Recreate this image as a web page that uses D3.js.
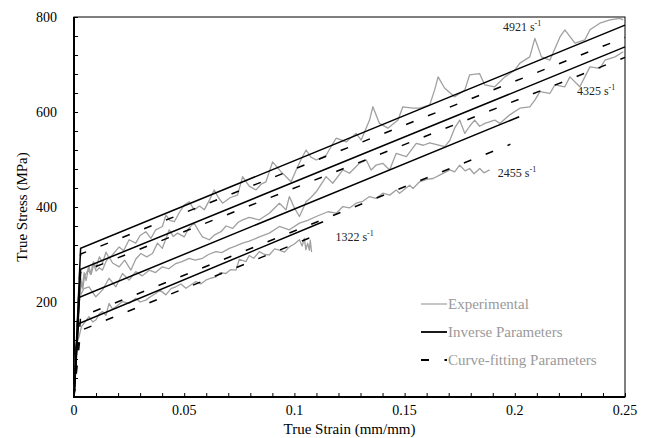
<!DOCTYPE html>
<html>
<head>
<meta charset="utf-8">
<script src="https://cdn.jsdelivr.net/npm/d3@7"></script>
<style>
  body { margin: 0; background: #fff; }
  text { font-family: "Liberation Serif", "DejaVu Serif", "Times New Roman", serif; }
</style>
</head>
<body>
<div id="chart"></div>
<script>
// experimental curves, [strain, stress in MPa]
var exp4921 = [[0,0],[0.0008,70],[0.0015,150],[0.0022,215],[0.003,250],[0.0038,232],[0.0046,262],
  [0.0055,245],[0.0065,270],[0.0075,258],[0.0088,285],[0.010,272],[0.0115,295],[0.013,283],
  [0.0145,305],[0.016,292],[0.0174,299],[0.0205,316],[0.0225,308],[0.025,331],[0.028,324],
  [0.030,340],[0.0326,348],[0.0349,334],[0.0371,352],[0.0401,359],[0.0417,383],[0.0435,372],
  [0.0455,369],[0.048,390],[0.050,404],[0.0523,411],[0.0545,394],[0.057,402],[0.0591,394],
  [0.0615,415],[0.0636,436],[0.0655,420],[0.0674,408],[0.071,420],[0.0742,425],[0.0765,464],
  [0.0795,444],[0.0826,436],[0.0849,448],[0.0871,453],[0.0901,495],[0.094,474],[0.0985,453],
  [0.1008,478],[0.103,500],[0.1053,520],[0.1075,505],[0.1099,499],[0.1144,509],[0.117,530],
  [0.119,545],[0.1235,537],[0.128,555],[0.1303,541],[0.1341,583],[0.1356,611],[0.1386,576],
  [0.1424,566],[0.147,583],[0.1492,611],[0.1538,608],[0.1568,608],[0.1614,615],[0.1636,646],
  [0.1652,674],[0.1682,650],[0.1727,632],[0.1773,646],[0.1795,678],[0.184,681],[0.1864,657],
  [0.1909,653],[0.1955,674],[0.200,688],[0.2023,703],[0.2068,716],[0.2091,755],[0.2121,716],
  [0.2159,709],[0.2205,758],[0.2227,773],[0.2273,745],[0.2318,752],[0.2341,773],[0.2386,787],
  [0.2432,794],[0.2477,797],[0.2492,794]];

var exp4325 = [[0,0],[0.0007,55],[0.0014,120],[0.002,175],[0.0027,215],[0.0034,240],[0.004,228],
  [0.0048,255],[0.0058,262],[0.0068,274],[0.0078,258],[0.009,280],[0.010,265],[0.0115,272],
  [0.0129,267],[0.0145,285],[0.0159,295],[0.0175,282],[0.0205,274],[0.023,288],[0.0258,267],
  [0.028,290],[0.0303,302],[0.033,295],[0.0356,302],[0.0379,324],[0.0401,313],[0.0432,352],
  [0.045,338],[0.047,345],[0.050,337],[0.052,355],[0.0545,366],[0.0565,350],[0.0583,337],
  [0.0614,331],[0.064,342],[0.0667,348],[0.069,360],[0.072,355],[0.0745,368],[0.0765,373],
  [0.0795,378],[0.0841,373],[0.0886,387],[0.0932,408],[0.0962,394],[0.0977,422],[0.100,398],
  [0.1023,380],[0.1053,411],[0.1075,420],[0.1099,432],[0.1144,464],[0.1174,450],[0.122,478],
  [0.125,471],[0.1295,492],[0.1326,499],[0.1348,478],[0.137,488],[0.1401,492],[0.1432,478],
  [0.1462,513],[0.1508,506],[0.1553,534],[0.1585,530],[0.1614,535],[0.1682,527],[0.1705,540],
  [0.1727,566],[0.175,583],[0.1773,555],[0.1795,570],[0.1818,583],[0.184,570],[0.1864,576],
  [0.1909,583],[0.1932,576],[0.1977,594],[0.2023,608],[0.2068,611],[0.2091,625],[0.2114,643],
  [0.2159,639],[0.2182,657],[0.2227,653],[0.225,674],[0.2295,653],[0.2341,695],[0.2386,692],
  [0.2409,709],[0.2455,716],[0.2492,727]];

var exp2455 = [[0,0],[0.0006,50],[0.0012,110],[0.0018,170],[0.0023,239],[0.003,215],[0.0045,228],
  [0.0068,232],[0.0085,220],[0.0099,211],[0.0129,225],[0.0159,250],[0.019,232],[0.022,260],
  [0.025,246],[0.028,264],[0.031,255],[0.0341,267],[0.037,262],[0.0401,274],[0.043,270],
  [0.0462,281],[0.049,285],[0.0523,292],[0.055,288],[0.0583,292],[0.061,300],[0.0644,306],
  [0.067,304],[0.0705,313],[0.0735,318],[0.0765,324],[0.0795,328],[0.0841,337],[0.0886,345],
  [0.0932,359],[0.0977,352],[0.1023,366],[0.106,372],[0.1099,380],[0.1152,390],[0.119,387],
  [0.122,401],[0.125,398],[0.128,408],[0.131,412],[0.1341,422],[0.137,418],[0.1401,429],
  [0.1432,425],[0.1462,436],[0.1477,429],[0.1523,446],[0.1538,439],[0.1568,453],[0.16,458],
  [0.1629,460],[0.1659,467],[0.1705,478],[0.1727,474],[0.175,488],[0.1775,476],[0.1795,481],
  [0.1815,470],[0.1841,481],[0.186,472],[0.1886,478]];

var exp1322 = [[0,0],[0.0004,40],[0.0008,106],[0.0015,118],[0.0023,127],[0.0034,148],[0.0045,155],
  [0.0068,169],[0.0085,158],[0.0099,162],[0.0115,175],[0.0129,180],[0.0145,172],[0.0159,197],
  [0.0175,185],[0.019,190],[0.022,201],[0.025,197],[0.028,208],[0.030,200],[0.0326,204],
  [0.035,212],[0.0371,218],[0.039,225],[0.0417,215],[0.044,228],[0.0462,232],[0.0485,238],
  [0.0508,229],[0.0553,243],[0.0575,238],[0.0598,246],[0.062,250],[0.0644,253],[0.0665,262],
  [0.0689,260],[0.071,268],[0.0735,267],[0.075,290],[0.078,285],[0.0795,298],[0.0815,292],
  [0.0841,306],[0.0865,300],[0.0886,299],[0.091,312],[0.0932,309],[0.0955,305],[0.0977,316],
  [0.100,322],[0.1023,331],[0.1035,318],[0.1045,334],[0.1052,310],[0.106,324],[0.1068,309],
  [0.1072,330],[0.1078,305]];

// bilinear model curves: origin, yield knee, end point
var inv4921 = [[0,0],[0.003,313],[0.25,783]];
var inv4325 = [[0,0],[0.003,269],[0.25,737]];
var inv2455 = [[0,0],[0.0025,210],[0.202,590]];
var inv1322 = [[0,0],[0.002,154],[0.113,369]];

var fit4921 = [[0,0],[0.003,301],[0.25,757]];
var fit4325 = [[0,0],[0.003,262],[0.25,715]];
var fit2455 = [[0,0],[0.003,169],[0.198,532]];
var fit1322 = [[0,0],[0.003,140],[0.108,337]];

var rateLabels = [
  {rate: "4921", x: 0.1946, y: 770},
  {rate: "4325", x: 0.2282, y: 635},
  {rate: "2455", x: 0.1923, y: 463},
  {rate: "1322", x: 0.1186, y: 328}
];

var xTicks = [0, 0.05, 0.1, 0.15, 0.2, 0.25];
var yTicks = [200, 400, 600, 800];
var legendItems = ["Experimental", "Inverse Parameters", "Curve-fitting Parameters"];

var EXP_COLOUR = "#a0a0a0";
var LABEL_GREY = "#9a9a9a";
var FONT = "'Liberation Serif', 'DejaVu Serif', serif";

var margin = {top: 17, right: 21, bottom: 41, left: 74};
var width = 646 - margin.left - margin.right;
var height = 438 - margin.top - margin.bottom;

var svg = d3.select("#chart")
  .append("svg")
    .attr("width", 646)
    .attr("height", 438)
    .attr("font-family", FONT)
  .append("g")
    .attr("transform", "translate(" + margin.left + "," + margin.top + ")");

var x = d3.scaleLinear().domain([0, 0.25]).range([0, width]);
var y = d3.scaleLinear().domain([0, 800]).range([height, 0]);

// minor ticks, pointing inwards
svg.append("g")
  .call(d3.axisLeft(y).tickValues(d3.range(0, 801, 40)).tickSize(-4).tickFormat(""))
  .call(function(g) { g.select(".domain").remove(); })
  .selectAll("line").attr("stroke", "#000");
svg.append("g")
  .attr("transform", "translate(0," + height + ")")
  .call(d3.axisBottom(x).tickValues(d3.range(0, 26).map(function(i) { return i / 100; })).tickSize(-4).tickFormat(""))
  .call(function(g) { g.select(".domain").remove(); })
  .selectAll("line").attr("stroke", "#000");

// tick labels
svg.append("g")
  .selectAll("text")
  .data(yTicks)
  .enter()
  .append("text")
    .attr("x", -17)
    .attr("y", function(d) { return y(d); })
    .attr("dy", "0.35em")
    .attr("text-anchor", "end")
    .attr("font-size", 14)
    .text(function(d) { return d; });
svg.append("g")
  .selectAll("text")
  .data(xTicks)
  .enter()
  .append("text")
    .attr("x", function(d) { return x(d); })
    .attr("y", height + 18)
    .attr("text-anchor", "middle")
    .attr("font-size", 14)
    .text(function(d) { return d; });

// frame
svg.append("rect")
  .attr("width", width)
  .attr("height", height)
  .attr("fill", "none")
  .attr("stroke", "#000")
  .attr("stroke-width", 1);
svg.append("path")
  .attr("d", "M0,0V" + height + "H" + width)
  .attr("fill", "none")
  .attr("stroke", "#000")
  .attr("stroke-width", 2);

// axis titles
svg.append("text")
  .attr("text-anchor", "middle")
  .attr("font-size", 15)
  .attr("x", width / 2)
  .attr("y", height + 37)
  .text("True Strain (mm/mm)");
svg.append("text")
  .attr("text-anchor", "middle")
  .attr("font-size", 15)
  .attr("transform", "translate(-47," + (height / 2) + ") rotate(-90)")
  .text("True Stress (MPa)");

var line = d3.line()
  .x(function(d) { return x(d[0]); })
  .y(function(d) { return y(d[1]); });

// experimental
[exp4921, exp4325, exp2455, exp1322].forEach(function(s) {
  svg.append("path")
    .datum(s)
    .attr("d", line)
    .attr("fill", "none")
    .attr("stroke", EXP_COLOUR)
    .attr("stroke-width", 1.3)
    .attr("stroke-linejoin", "round");
});

// curve-fitting (dashed)
[fit4921, fit4325, fit2455, fit1322].forEach(function(s) {
  svg.append("path")
    .datum(s)
    .attr("d", line)
    .attr("fill", "none")
    .attr("stroke", "#000")
    .attr("stroke-width", 1.5)
    .attr("stroke-dasharray", "8,15.5");
});

// inverse (solid)
[inv4921, inv4325, inv2455, inv1322].forEach(function(s) {
  svg.append("path")
    .datum(s)
    .attr("d", line)
    .attr("fill", "none")
    .attr("stroke", "#000")
    .attr("stroke-width", 1.5);
});

// strain rate labels
rateLabels.forEach(function(d) {
  var t = svg.append("text")
    .attr("x", x(d.x))
    .attr("y", y(d.y))
    .attr("font-size", 12)
    .attr("fill", "#222");
  t.append("tspan").text(d.rate + " s");
  t.append("tspan").attr("font-size", 8).attr("dy", -5).text("-1");
});

// legend
var legend = svg.append("g").attr("transform", "translate(" + (421 - margin.left) + "," + (304 - margin.top) + ")");
legendItems.forEach(function(name, i) {
  var g = legend.append("g").attr("transform", "translate(0," + (i * 28) + ")");
  var l = g.append("line")
    .attr("x1", 0).attr("x2", 26)
    .attr("stroke-width", i == 0 ? 1.2 : 1.8)
    .attr("stroke", i == 0 ? EXP_COLOUR : "#000");
  if (i == 2) l.attr("stroke-dasharray", "8,15.5");
  g.append("text")
    .attr("x", 27)
    .attr("dy", "0.35em")
    .attr("font-size", 15)
    .attr("fill", LABEL_GREY)
    .text(name);
});
</script>
</body>
</html>
